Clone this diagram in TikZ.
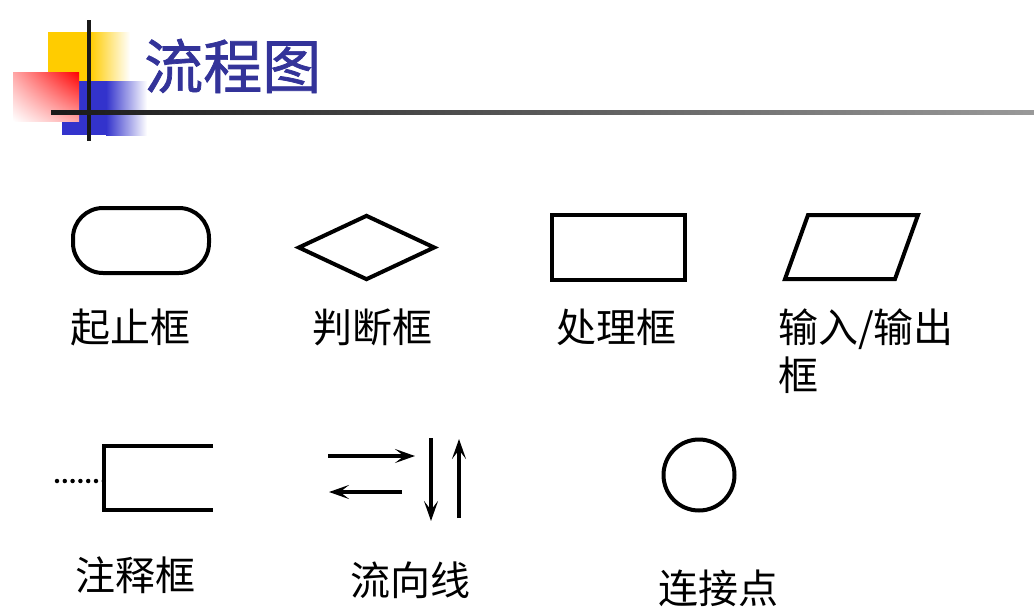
\documentclass[tikz,border=0pt]{standalone}
\usepackage{fontspec}
\newfontfamily\cjk{Noto Sans CJK SC}
\newfontfamily\cjktitulo[FakeBold=1.2]{Noto Sans CJK SC}
\usetikzlibrary{shapes.geometric,arrows.meta,shadings}

\tikzset{
  figura/.style={draw=black,line width=4pt,inner sep=0pt},
  etiqueta/.style={font=\cjk\fontsize{40}{48}\selectfont,inner sep=0pt},
  flecha/.style={line width=4pt,-{Stealth[length=20pt,width=14pt,inset=9pt]}}
}

\begin{document}
\begin{tikzpicture}[x=1pt,y=-1pt]
        %colores
        \colorlet{amarillo}{rgb,255:red,255;green,204;blue,0}
        \colorlet{azul}{rgb,255:red,51;green,51;blue,204}
        \colorlet{titulo}{rgb,255:red,51;green,51;blue,153}

        \useasboundingbox[fill=white] (0,0) rectangle (1034,613);

        % decoracion del titulo
        \fill[amarillo] (48,32) rectangle (90,81);
        \shade[left color=amarillo,right color=white] (90,32) rectangle (130,81);
        \fill[azul] (62,81) rectangle (106,135);
        \shade[left color=azul,right color=white] (106,81) rectangle (147,135);
        \shade[upper right=red,lower left=white,upper left=red!35!white,lower right=red!35!white]
            (13,72) rectangle (79,121);
        \draw[line width=3.5pt,black!90] (89,20) -- (89,141);
        \shade[left color=black!90,right color=black!40] (51,110) rectangle (1034,114);

        % titulo
        \node[font=\cjktitulo\fontsize{59}{62}\selectfont,text=titulo,anchor=west,inner sep=0pt]
            (titulo) at (144,66) {流程图};

        % primera fila de figuras
        \node[figura,rounded corners=30pt,minimum width=136pt,minimum height=65pt] (inicio) at (141,240.5) {};
        \node[figura,diamond,minimum width=137pt,minimum height=65pt] (decision) at (366.5,247.5) {};
        \node[figura,rectangle,minimum width=133pt,minimum height=65pt] (proceso) at (618.5,247.5) {};
        \draw[line width=4pt,line join=miter] (785,279) -- (808,215) -- (918,215) -- (895,279) -- cycle;
        \coordinate (entrada) at (851.5,247);

        \node[etiqueta] (l inicio) at (130,327) {起止框};
        \node[etiqueta] (l decision) at (372,327) {判断框};
        \node[etiqueta] (l proceso) at (616,327) {处理框};
        \node[etiqueta,anchor=west,align=left] (l entrada) at (778,351) {输入/输出\\框};

        % segunda fila: comentario, lineas de flujo, conector
        \coordinate (c arriba) at (213,446);
        \coordinate (c abajo) at (213,510);
        \draw[line width=4pt,line join=miter] (c arriba) -- (104,446) -- (104,510) -- (c abajo);
        \coordinate (c punto) at (104,481);
        \coordinate (c inicio) at (57,481);
        \draw[line width=4.5pt,line cap=round,dash pattern=on 0pt off 7.8pt] (c inicio) -- (c punto);

        \coordinate (f1a) at (328,456); \coordinate (f1b) at (415,456);
        \coordinate (f2a) at (402,492); \coordinate (f2b) at (329,492);
        \coordinate (f3a) at (431,438); \coordinate (f3b) at (431,521);
        \coordinate (f4a) at (459,518); \coordinate (f4b) at (459,439);
        \foreach \a/\b in {f1a/f1b, f2a/f2b, f3a/f3b, f4a/f4b}
            \draw[flecha] (\a) -- (\b);

        \node[figura,circle,minimum size=71pt] (conector) at (699,475) {};

        \node[etiqueta] (l comentario) at (135,575) {注释框};
        \node[etiqueta] (l flujo) at (410,580) {流向线};
        \node[etiqueta] (l conector) at (718,588) {连接点};
    \end{tikzpicture}
\end{document}
